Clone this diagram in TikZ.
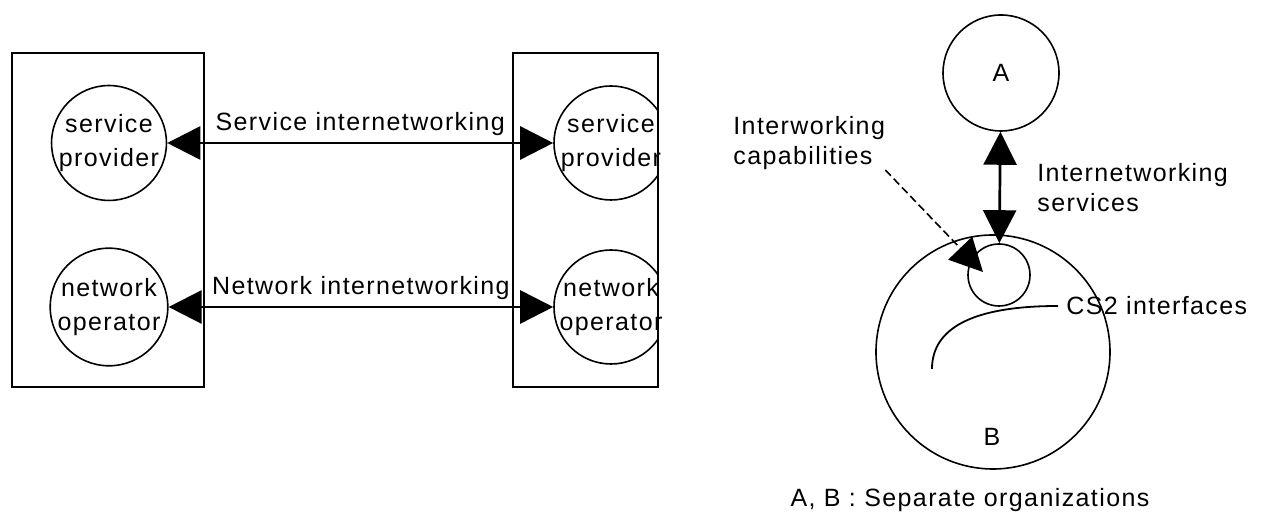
\documentclass[tikz,border=0pt]{standalone}
\usepackage{fontspec}
\setmainfont{Liberation Sans}[LetterSpace=5.6]
\usetikzlibrary{arrows.meta,positioning}
\tikzstyle{org}=[draw, circle, line width=0.8pt, minimum size=57pt, inner sep=0pt, align=center, font=\fontsize{12.5}{17}\selectfont]
\tikzstyle{txt}=[align=center, inner sep=0pt, font=\fontsize{12.5}{17}\selectfont]
\tikzstyle{lbl}=[align=left, inner sep=0pt, font=\fontsize{12.5}{15}\selectfont]
\tikzstyle{frame}=[draw, line width=0.85pt]
\tikzstyle{big}=[line width=1.35pt, {Triangle[length=16.5pt,width=16.5pt]}-{Triangle[length=16.5pt,width=16.5pt]}]
\tikzstyle{dsh}=[dashed, dash pattern=on 4pt off 2pt, line width=0.8pt, -{Triangle[length=16.5pt,width=16.5pt]}]

\begin{document}
\begin{tikzpicture}[x=0.5pt,y=0.5pt,node distance=82pt]
    \useasboundingbox (0,0) rectangle (1269,517);
    % the two organisations
    \draw[frame] (12,130) rectangle (204,464);
    \draw[frame] (513,130) rectangle (658,464);
    \node [org] (sp1) at (109,374) {service\\provider};
    \node [org] (np1) [below of=sp1] {network\\operator};
    \begin{scope}
        \clip (513,130) rectangle (658,464);
        \node [org] (sp2) [right of=sp1, node distance=251pt] {};
        \node [org] (np2) [right of=np1, node distance=251pt] {};
    \end{scope}
    \node [txt] (sp2t) at (sp2) {service\\provider};
    \node [txt] (np2t) at (np2) {network\\operator};
    \path[big] (sp1) edge node[lbl, yshift=9.5pt] {Service internetworking} (sp2);
    \path[big] (np1) edge node[lbl, yshift=9.5pt] {Network internetworking} (np2);

    % A and B
    \node [org, minimum size=58pt] (a) at (1001,444) {A};
    \node [org, minimum size=117pt] (b) at (993,165) {};
    \node [txt] (blbl) at (992,80) {B};
    \node [org, minimum size=31pt] (ic) at (999,242) {};
    \path[big] (a) edge (ic);
    \node [lbl, anchor=west] (isv) at (1037,329) {Internetworking\\services};
    \node [lbl, anchor=west] (cap) at (733,374) {Interworking\\capabilities};
    \coordinate (captip) at (983,245);
    \draw[dsh] (cap.south east) -- (captip);
    \node [lbl, inner xsep=4pt, anchor=west] (cs2) at (1058,211) {CS2 interfaces};
    \coordinate (cs2end) at (932,148);
    \draw[line width=0.9pt] (cs2.west) .. controls (975,211) and (932,190) .. (cs2end);
    \node [lbl] (note) at (970,17) {A, B : Separate organizations};
\end{tikzpicture}
\end{document}
